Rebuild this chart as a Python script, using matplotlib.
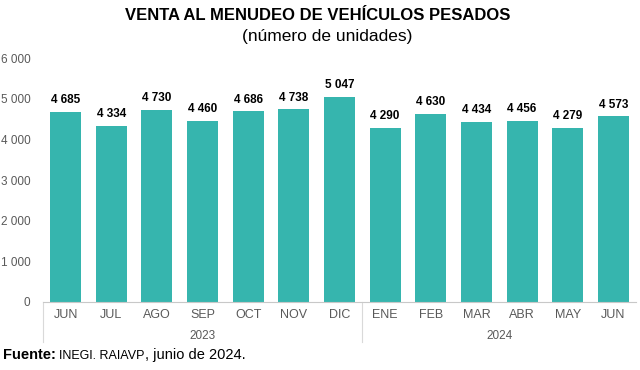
import matplotlib.pyplot as plt
import matplotlib.transforms as mtransforms

plt.rcParams['font.family'] = ['Liberation Sans', 'DejaVu Sans']

meses = ['JUN', 'JUL', 'AGO', 'SEP', 'OCT', 'NOV', 'DIC',
         'ENE', 'FEB', 'MAR', 'ABR', 'MAY', 'JUN']
anios = ['2023', '2024']
n_por_anio = [7, 6]
ventas = [4685, 4334, 4730, 4460, 4686, 4738, 5047,
          4290, 4630, 4434, 4456, 4279, 4573]

color_barra = '#36B5AE'
gris = '#595959'


def fmt(v):
    return f'{v:,}'.replace(',', ' ')


fig = plt.figure(figsize=(6.4, 3.7), dpi=100)
ax = fig.add_axes([0.067, 0.184, 0.927, 0.659])

x = list(range(len(meses)))
bars = ax.bar(x, ventas, width=0.68, color=color_barra, zorder=2)
for b, v in zip(bars, ventas):
    ax.annotate(fmt(v), (b.get_x() + b.get_width() / 2, v), xytext=(0, 4),
                textcoords='offset points', ha='center', va='bottom',
                fontsize=8.5, fontweight='bold', color='black')

ax.set_xlim(-0.5, len(meses) - 0.5)
ax.set_ylim(0, 6000)
ax.set_yticks(range(0, 6001, 1000))
ax.set_yticklabels([fmt(t) for t in range(0, 6001, 1000)], fontsize=8.5, color=gris)
ax.tick_params(axis='y', length=0, pad=9)
ax.tick_params(axis='x', length=0, bottom=False, labelbottom=False)
for s in ['top', 'right', 'left']:
    ax.spines[s].set_visible(False)
ax.spines['bottom'].set_color('#c8c8c8')

trans = mtransforms.blended_transform_factory(ax.transData, ax.transAxes)
for i, m in enumerate(meses):
    ax.text(i, -0.055, m, transform=trans, ha='center', va='center',
            fontsize=9, color=gris)

# separadores de año
inicio = 0
bordes = [-0.5]
for n in n_por_anio:
    inicio += n
    bordes.append(inicio - 0.5)
for bx in bordes[:-1]:
    ax.plot([bx, bx], [0, -0.165], transform=trans, color='#d9d9d9',
            lw=0.8, clip_on=False)
inicio = 0
for a, n in zip(anios, n_por_anio):
    centro = inicio + (n - 1) / 2
    ax.text(centro, -0.14, a, transform=trans, ha='center', va='center',
            fontsize=8.5, color=gris)
    inicio += n

fig.text(0.497, 0.957, 'VENTA AL MENUDEO DE VEHÍCULOS PESADOS',
         ha='center', va='center', fontsize=12, fontweight='bold')
fig.text(0.511, 0.9, '(número de unidades)', ha='center', va='center',
         fontsize=12.5)

yb = 0.03
t1 = fig.text(0.005, yb, 'Fuente:', ha='left', va='baseline',
              fontsize=10.5, fontweight='bold')
fig.canvas.draw()
bb = t1.get_window_extent().transformed(fig.transFigure.inverted())
t2 = fig.text(bb.x1 + 0.004, yb, 'INEGI. RAIAVP', ha='left', va='baseline',
              fontsize=9)
fig.canvas.draw()
bb2 = t2.get_window_extent().transformed(fig.transFigure.inverted())
fig.text(bb2.x1 + 0.001, yb, ', junio de 2024.', ha='left', va='baseline',
         fontsize=10.5)

fig.savefig('out.png', dpi=100)
